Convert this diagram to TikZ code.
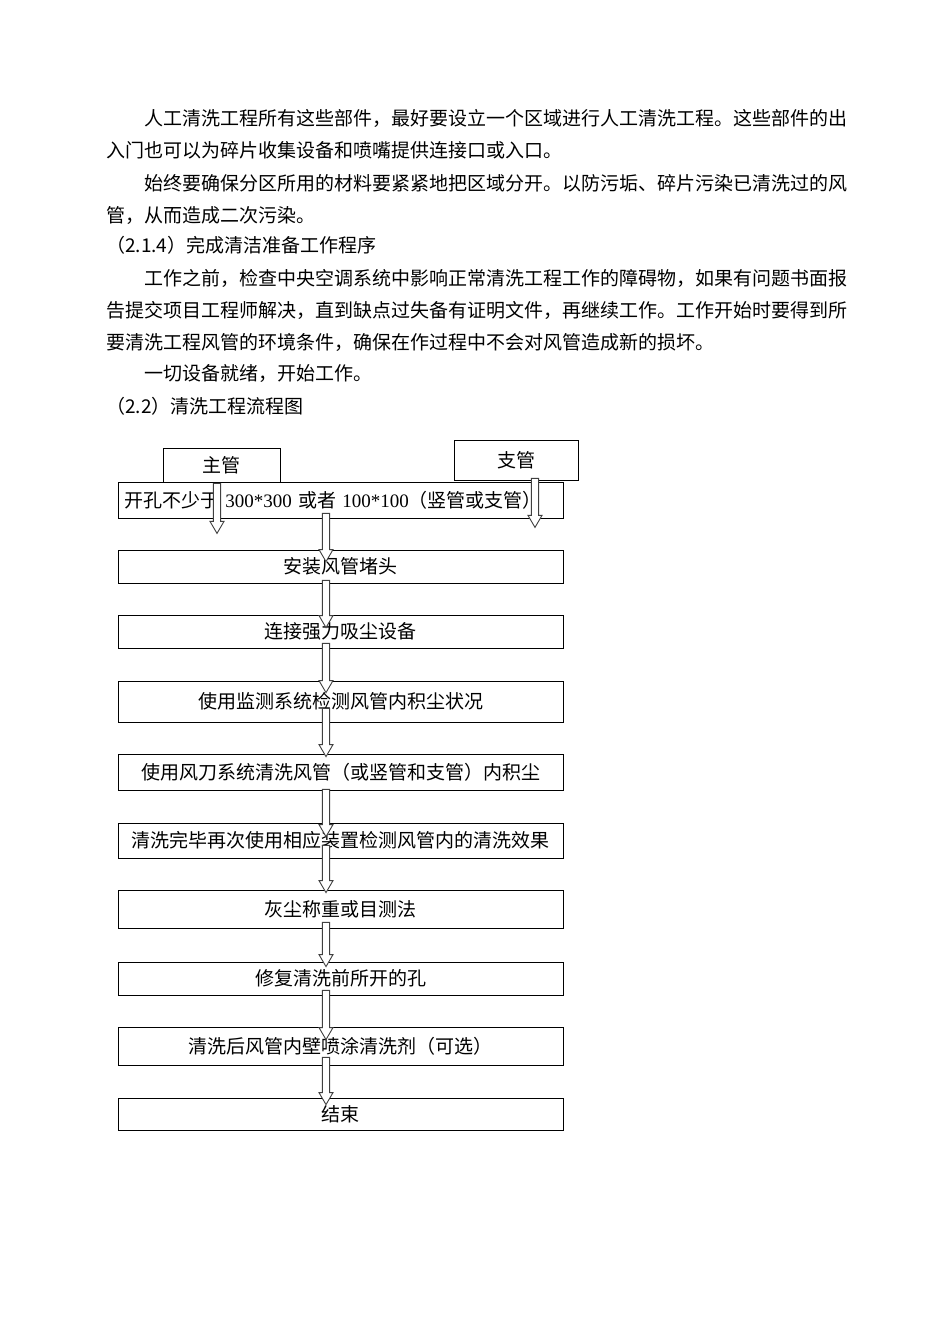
\documentclass[tikz,border=0pt]{standalone}
\usepackage{fontspec}
\setmainfont{Liberation Serif}
\newfontfamily\cjk{Noto Sans CJK SC}
\usetikzlibrary{calc}
\tikzset{
  line/.style={anchor=west, inner sep=0pt, font=\cjk\fontsize{19}{19}\selectfont},
  box/.style={draw=black, line width=0.8pt, minimum width=445pt, inner sep=0pt, font=\cjk\fontsize{19}{19}\selectfont},
  smallbox/.style={draw=black, line width=0.8pt, inner sep=0pt, font=\cjk\fontsize{19}{19}\selectfont},
  blockarrow/.style={draw=black!75, fill=white, line width=0.9pt, line join=miter}
}
\newcommand{\blockarr}[2]{%
  \draw[blockarrow] let \p1=(#1), \p2=(#2) in
    (\x1-3.6pt,\y1) -- (\x1-3.6pt,\y2+12pt) -- (\x1-7pt,\y2+12pt) -- (\x1,\y2)
    -- (\x1+7pt,\y2+12pt) -- (\x1+3.6pt,\y2+12pt) -- (\x1+3.6pt,\y1) -- cycle;}
\begin{document}
\begin{tikzpicture}[x=1pt,y=-1pt]
\fill[white] (0,0) rectangle (950,1344);
\useasboundingbox (0,0) rectangle (950,1344);
% body text
\node[line] (t1) at (144,118) {人工清洗工程所有这些部件，最好要设立一个区域进行人工清洗工程。这些部件的出};
\node[line] (t2) at (106,150) {入门也可以为碎片收集设备和喷嘴提供连接口或入口。};
\node[line] (t3) at (144,183) {始终要确保分区所用的材料要紧紧地把区域分开。以防污垢、碎片污染已清洗过的风};
\node[line] (t4) at (106,215) {管，从而造成二次污染。};
\node[line] (t5) at (106,245) {（2.1.4）完成清洁准备工作程序};
\node[line] (t6) at (144,278) {工作之前，检查中央空调系统中影响正常清洗工程工作的障碍物，如果有问题书面报};
\node[line] (t7) at (106,310) {告提交项目工程师解决，直到缺点过失备有证明文件，再继续工作。工作开始时要得到所};
\node[line] (t8) at (106,342) {要清洗工程风管的环境条件，确保在作过程中不会对风管造成新的损坏。};
\node[line] (t9) at (144,374) {一切设备就绪，开始工作。};
\node[line] (t10) at (106,406) {（2.2）清洗工程流程图};
% top boxes
\node[smallbox, minimum width=117pt, minimum height=34pt] (zg) at (221.5,465) {主管};
\node[smallbox, minimum width=124pt, minimum height=40pt] (zhi) at (516,460) {支管};
% main boxes
\node[box, minimum height=36pt, text width=433pt, align=left, inner xsep=6pt] (b1) at (340.5,500)
  {开孔不少于 {\rmfamily 300*300} 或者 {\rmfamily 100*100}（竖管或支管）};
\node[box, minimum height=33pt] (b2) at (340.5,566.5) {安装风管堵头};
\node[box, minimum height=33pt] (b3) at (340.5,631.5) {连接强力吸尘设备};
\node[box, minimum height=41pt] (b4) at (340.5,701.5) {使用监测系统检测风管内积尘状况};
\node[box, minimum height=36pt] (b5) at (340.5,772) {使用风刀系统清洗风管（或竖管和支管）内积尘};
\node[box, minimum height=35pt] (b6) at (340.5,840.5) {清洗完毕再次使用相应装置检测风管内的清洗效果};
\node[box, minimum height=38pt] (b7) at (340.5,909) {灰尘称重或目测法};
\node[box, minimum height=33pt] (b8) at (340.5,978.5) {修复清洗前所开的孔};
\node[box, minimum height=38pt] (b9) at (340.5,1046) {清洗后风管内壁喷涂清洗剂（可选）};
\node[box, minimum height=32pt] (b10) at (340.5,1114) {结束};
% arrow end points
\coordinate (zgs) at ($(zg.south)+(-4.5,1)$);
\coordinate (zgt) at ($(zg.south)+(-4.5,51)$);
\coordinate (zhs) at ($(zhi.south)+(19,-2)$);
\coordinate (zht) at ($(zhi.south)+(19,47)$);
\coordinate (s1) at ($(b1.south)+(-14.5,-5)$);   \coordinate (e1) at ($(b2.north)+(-14.5,12)$);
\coordinate (s2) at ($(b2.south)+(-14.5,-3)$);   \coordinate (e2) at ($(b3.north)+(-14.5,13)$);
\coordinate (s3) at ($(b3.south)+(-14.5,-5)$);   \coordinate (e3) at ($(b4.north)+(-14.5,12)$);
\coordinate (s4) at ($(b4.south)+(-14.5,-14)$);  \coordinate (e4) at ($(b5.north)+(-14.5,3)$);
\coordinate (s5) at ($(b5.south)+(-14.5,-1)$);   \coordinate (e5) at ($(b6.north)+(-14.5,14)$);
\coordinate (s6) at ($(b6.south)+(-14.5,-13)$);  \coordinate (e6) at ($(b7.north)+(-14.5,3)$);
\coordinate (s7) at ($(b7.south)+(-14.5,-6)$);   \coordinate (e7) at ($(b8.north)+(-14.5,5)$);
\coordinate (s8) at ($(b8.south)+(-14.5,-5)$);   \coordinate (e8) at ($(b9.north)+(-14.5,13)$);
\coordinate (s9) at ($(b9.south)+(-14.5,-8)$);   \coordinate (e9) at ($(b10.north)+(-14.5,7)$);
% arrows
\blockarr{zgs}{zgt}
\blockarr{zhs}{zht}
\blockarr{s1}{e1}
\blockarr{s2}{e2}
\blockarr{s3}{e3}
\blockarr{s4}{e4}
\blockarr{s5}{e5}
\blockarr{s6}{e6}
\blockarr{s7}{e7}
\blockarr{s8}{e8}
\blockarr{s9}{e9}
\end{tikzpicture}
\end{document}
